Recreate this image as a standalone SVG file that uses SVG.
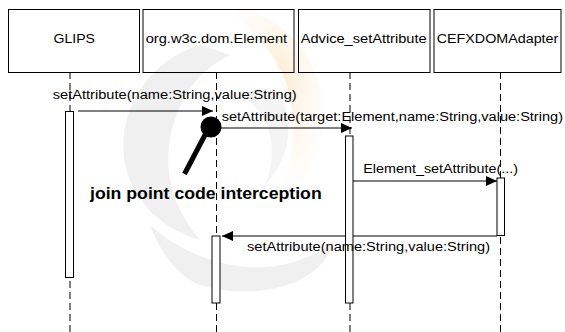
<svg xmlns="http://www.w3.org/2000/svg" width="565" height="332" viewBox="0 0 565 332">
<style>
.box{fill:none;stroke:#000;stroke-width:1}
.life{stroke:#000;stroke-width:1;stroke-dasharray:7,4;fill:none}
.act{fill:#fff;stroke:#000;stroke-width:1}
.msg{stroke:#000;stroke-width:1;fill:none}
.t{font-family:"Liberation Sans",Arial,sans-serif;font-size:12px;fill:#000}
.b{font-family:"Liberation Sans",Arial,sans-serif;font-size:16px;font-weight:bold;fill:#000}
</style>
<defs>
<marker id="ah" markerWidth="11" markerHeight="10" refX="11" refY="5" orient="auto" markerUnits="userSpaceOnUse">
<path d="M0,0 L11,5 L0,10 Z" fill="#000"/>
</marker>
<radialGradient id="og" cx="0.6" cy="0.4" r="0.6">
<stop offset="0" stop-color="#fbd9a0"/>
<stop offset="1" stop-color="#fff" stop-opacity="0"/>
</radialGradient>
</defs>
<rect width="565" height="332" fill="#fff"/>
<g id="watermark" opacity="0.55">
<path d="M210,0 C290,10 335,70 320,140 C310,180 290,200 270,215 C295,170 300,120 285,80 C270,45 245,20 210,0 Z" fill="url(#og)"/>
<path d="M200,45 C150,60 115,110 125,165 C135,205 165,230 200,240 C170,205 160,160 175,120 C185,90 200,70 230,55 Z" fill="#e4e4e4"/>
<path d="M150,225 C200,270 280,285 335,240 C320,290 250,300 200,285 C175,275 160,250 150,225 Z" fill="#e4e4e4"/>
<path d="M240,95 C270,110 280,150 265,185 C290,160 295,120 280,95 C270,85 255,88 240,95 Z" fill="#ececec"/>
</g>
<g id="connectors">
<line class="life" x1="70" y1="72" x2="70" y2="332"/>
<line class="life" x1="216.5" y1="72" x2="216.5" y2="332"/>
<line class="life" x1="350" y1="72" x2="350" y2="332"/>
<line class="life" x1="500.5" y1="72" x2="500.5" y2="332"/>
<line class="msg" x1="78" y1="111" x2="213" y2="111" marker-end="url(#ah)"/>
<line class="msg" x1="215" y1="128" x2="352" y2="128" marker-end="url(#ah)"/>
<line class="msg" x1="353" y1="181" x2="497" y2="181" marker-end="url(#ah)"/>
<line class="msg" x1="497" y1="236" x2="222" y2="236" marker-end="url(#ah)"/>
</g>
<g id="GLIPS">
<rect class="box" x="8.5" y="9.5" width="131" height="63"/>
<text class="t" x="53.5" y="43" textLength="41.5" lengthAdjust="spacingAndGlyphs">GLIPS</text>
<rect class="act" x="65.5" y="111.5" width="8" height="166"/>
</g>
<g id="Element">
<rect class="box" x="143" y="9.5" width="151" height="63"/>
<text class="t" x="145.7" y="43" textLength="141.5" lengthAdjust="spacingAndGlyphs">org.w3c.dom.Element</text>
<rect class="act" x="212" y="236" width="8" height="67"/>
</g>
<g id="Advice_setAttribute">
<rect class="box" x="298.5" y="9.5" width="131.5" height="63"/>
<text class="t" x="300.7" y="43" textLength="126" lengthAdjust="spacingAndGlyphs">Advice_setAttribute</text>
<rect class="act" x="345.5" y="136" width="7.5" height="167"/>
</g>
<g id="CEFXDOMAdapter">
<rect class="box" x="434" y="9.5" width="127" height="63"/>
<text class="t" x="436.7" y="43" textLength="121.6" lengthAdjust="spacingAndGlyphs">CEFXDOMAdapter</text>
<rect class="act" x="497" y="178" width="7.5" height="57.5"/>
</g>
<g id="labels">
<text class="t" x="52.7" y="98.5" textLength="244" lengthAdjust="spacingAndGlyphs">setAttribute(name:String,value:String)</text>
<text class="t" x="221.7" y="121" textLength="341.3" lengthAdjust="spacingAndGlyphs">setAttribute(target:Element,name:String,value:String)</text>
<text class="t" x="363.3" y="173.3" textLength="154.7" lengthAdjust="spacingAndGlyphs">Element_setAttribute(...)</text>
<text class="t" x="247" y="251" textLength="243" lengthAdjust="spacingAndGlyphs">setAttribute(name:String,value:String)</text>
</g>
<g id="joinpoint">
<line x1="206" y1="133" x2="184.5" y2="174" stroke="#000" stroke-width="5"/>
<circle cx="211" cy="127" r="10.5" fill="#000"/>
<text class="b" x="90" y="199" textLength="231.7" lengthAdjust="spacingAndGlyphs">join point code interception</text>
</g>
</svg>
